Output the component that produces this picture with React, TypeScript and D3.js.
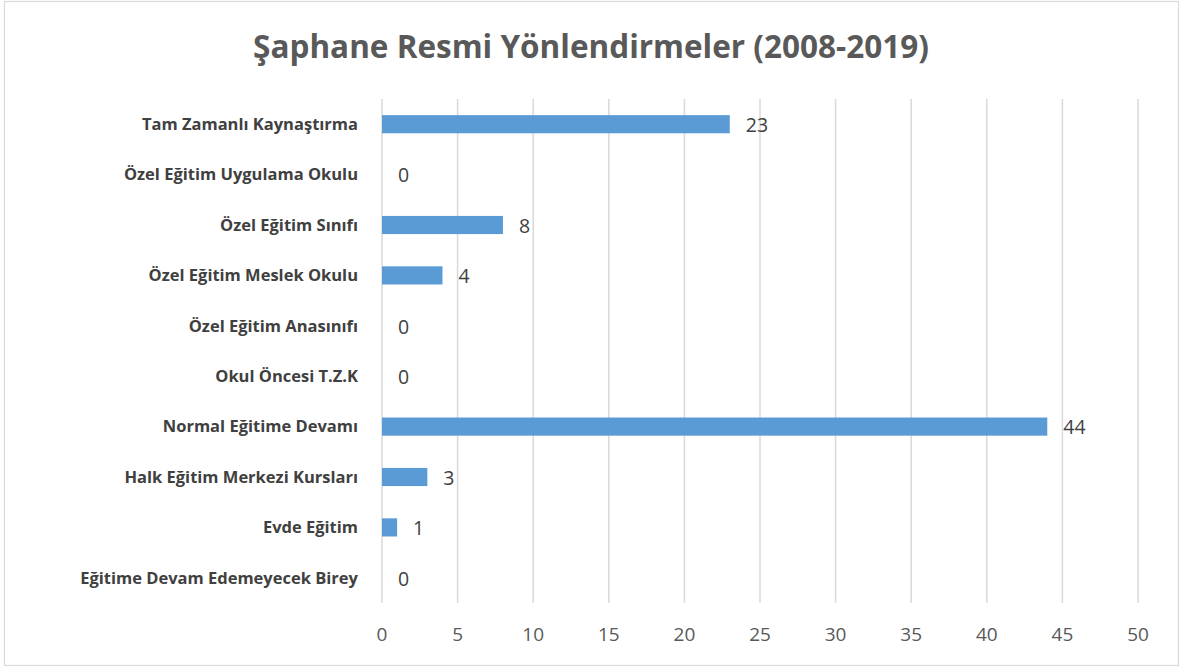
import React from "react";
import * as d3 from "d3";

const categories = [
  "Tam Zamanlı Kaynaştırma",
  "Özel Eğitim Uygulama Okulu",
  "Özel Eğitim Sınıfı",
  "Özel Eğitim Meslek Okulu",
  "Özel Eğitim Anasınıfı",
  "Okul Öncesi T.Z.K",
  "Normal Eğitime Devamı",
  "Halk Eğitim Merkezi Kursları",
  "Evde Eğitim",
  "Eğitime Devam Edemeyecek Birey",
];
const values = [23, 0, 8, 4, 0, 0, 44, 3, 1, 0];
const xTicks = [0, 5, 10, 15, 20, 25, 30, 35, 40, 45, 50];
const title = "Şaphane Resmi Yönlendirmeler (2008-2019)";

const W = 1198;
const H = 668;
const FONT = "'Open Sans', 'Noto Sans', sans-serif";

export default function App() {
  const x = d3.scaleLinear().domain([0, 50]).range([382, 1138]);
  const y = d3
    .scaleBand<string>()
    .domain(categories)
    .range([99, 603])
    .paddingInner(0.64)
    .paddingOuter(0.32);

  return (
    <svg
      width={W}
      height={H}
      style={{ position: "absolute", left: 0, top: 0, background: "#fff" }}
    >
      <rect x={4.5} y={1.5} width={1174} height={664} fill="#fff" stroke="#d9d9d9" strokeWidth={1.2} />
      <text
        x={591}
        y={58}
        textAnchor="middle"
        fontFamily={FONT}
        fontWeight={700}
        fontSize={31.5}
        fill="#595959"
      >
        {title}
      </text>
      {xTicks.map((t) => (
        <g key={t}>
          <line x1={x(t)} x2={x(t)} y1={99} y2={603} stroke="#d9d9d9" strokeWidth={1.5} />
          <text
            x={x(t)}
            y={634}
            dy="0.36em"
            textAnchor="middle"
            fontFamily={FONT}
            fontSize={19}
            fill="#595959"
          >
            {t}
          </text>
        </g>
      ))}
      {categories.map((c, i) => {
        const yc = (y(c) as number) + y.bandwidth() / 2;
        return (
          <g key={c}>
            <rect
              x={x(0)}
              y={y(c)}
              width={x(values[i]) - x(0)}
              height={y.bandwidth()}
              fill="#5b9bd5"
            />
            <text
              x={358}
              y={yc}
              dy="0.35em"
              textAnchor="end"
              fontFamily={FONT}
              fontWeight={700}
              fontSize={16.5}
              fill="#404040"
            >
              {c}
            </text>
            <text
              x={x(values[i]) + 16}
              y={yc}
              dy="0.4em"
              textAnchor="start"
              fontFamily={FONT}
              fontSize={19.5}
              fill="#404040"
            >
              {values[i]}
            </text>
          </g>
        );
      })}
    </svg>
  );
}
